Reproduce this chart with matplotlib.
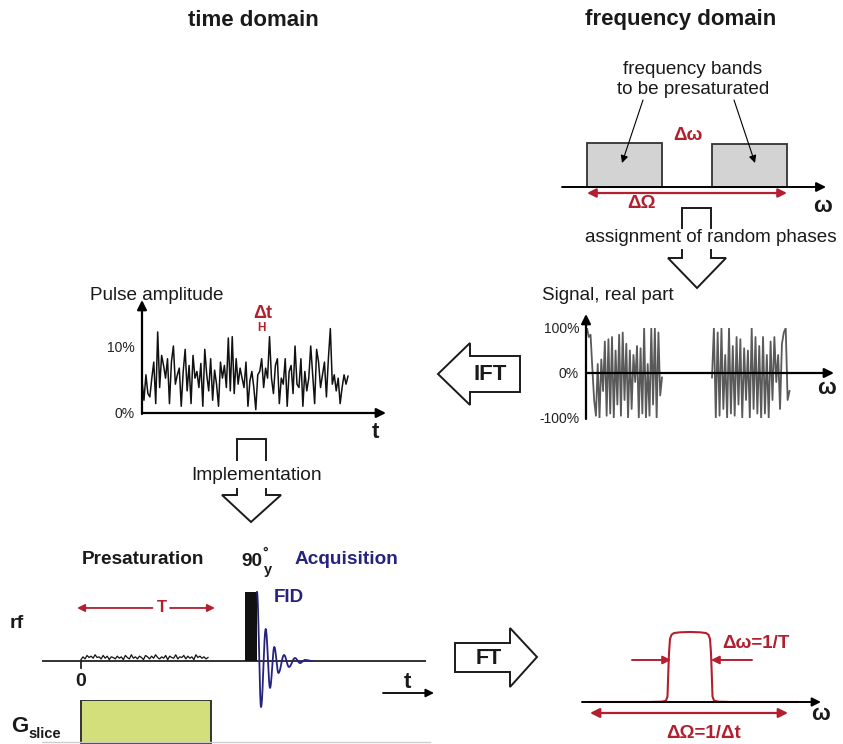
import numpy as np
import matplotlib
matplotlib.use("Agg")
import matplotlib.pyplot as plt
from matplotlib.patches import Polygon

# ---------------------------------------------------------------- data
# frequency bands to be presaturated (omega units)
band_lo = [0.0, 50.0]
band_hi = [30.0, 80.0]
band_amp = [1.0, 0.98]

# real part of the band signal after random phase assignment (%)
sig_left = [100, 80, 85, 10, -60, -95, 20, -100, 30, -40, 70, -95, 75, -90, 80,
            -100, 50, -70, 85, -95, 90, -60, 65, -100, 50, -80, 40, -20, 60, -100,
            55, -90, 100, -100, 20, -95, 100, -70, 100, -100, 90, -50, -10]
sig_right = [-10, 100, -100, 90, -95, 100, -80, 40, -100, 100, -90, 60, -95, 80,
             -70, 75, -100, 55, -60, 50, -100, 100, -80, 80, -90, 60, -100, 80,
             -90, 40, -100, 70, -60, 80, -20, 40, -80, 65, 90, 100, -60, -40]

# pulse amplitude of the presaturation train (%)
pulse_pct = [4.8, 1.9, 5.7, 2.9, 2.4, 5.2, 7.6, 1.4, 12.1, 3.8, 8.6, 7.1, 5.2, 8.1,
             1.4, 7.6, 10.0, 4.3, 5.7, 6.7, 1.0, 6.2, 9.5, 3.3, 7.1, 1.4, 8.6, 5.2,
             6.2, 3.8, 7.4, 1.0, 9.5, 5.7, 3.3, 8.1, 1.9, 6.4, 4.3, 1.0, 7.6, 5.2,
             7.1, 3.8, 11.2, 3.3, 11.4, 2.9, 8.1, 4.3, 6.7, 5.2, 3.8, 7.6, 1.0, 4.8,
             6.2, 3.8, 0.5, 5.7, 6.2, 8.1, 3.8, 6.7, 5.2, 11.4, 5.2, 2.9, 7.1, 8.1,
             1.4, 5.2, 4.3, 8.1, 1.0, 6.2, 7.1, 2.9, 10.0, 4.3, 3.8, 8.1, 1.0, 6.2,
             3.3, 5.2, 10.0, 5.7, 1.4, 9.5, 7.6, 3.8, 5.7, 7.6, 2.4, 8.1, 12.6, 4.3,
             5.7, 3.3, 5.2, 1.4, 3.8, 5.7, 4.3, 5.5]

# rf sequence (time in units of T, amplitude relative to the 90° pulse)
presat_T = 1.0
presat_noise = [0.02, 0.06, 0.03, 0.08, 0.05, 0.07, 0.04, 0.09, 0.05, 0.06, 0.03,
                0.08, 0.04, 0.07, 0.02, 0.06, 0.05, 0.03, 0.07, 0.04, 0.06, 0.02,
                0.08, 0.05, 0.03, 0.09, 0.04, 0.06, 0.03, 0.07, 0.05, 0.02, 0.08,
                0.06, 0.03, 0.07, 0.04, 0.09, 0.05, 0.03, 0.06, 0.04, 0.08, 0.02,
                0.07, 0.05, 0.04, 0.09, 0.03, 0.06, 0.05, 0.08, 0.03, 0.07, 0.04,
                0.06, 0.02, 0.09, 0.05, 0.07, 0.04, 0.06, 0.03, 0.05]
pulse90_start, pulse90_end, pulse90_amp = 1.262, 1.354, 1.0
# FID turning points (time, amplitude)
fid_t = [1.354, 1.385, 1.421, 1.454, 1.487, 1.519, 1.562, 1.600, 1.646, 1.685, 1.723, 1.777]
fid_a = [1.0, -0.667, 0.464, -0.391, 0.203, -0.174, 0.087, -0.087, 0.043, -0.03, 0.015, 0.0]

# resulting excitation profile
spec_w = [-100, -40, -28, -24, -22.5, -22, -21, -20, -18.5, -16, -10, 0,
          10, 16, 18.5, 20, 21, 22, 22.5, 24, 28, 40, 108]
spec_a = [0, 0, 0.005, 0.02, 0.08, 0.3, 0.7, 0.9, 0.96, 0.985, 0.995, 1.0,
          0.995, 0.985, 0.96, 0.9, 0.7, 0.3, 0.08, 0.02, 0.005, 0, 0]

# ---------------------------------------------------------------- style
W, H = 843, 744
plt.rcParams['font.family'] = ['Liberation Sans', 'DejaVu Sans']
RED = '#b31f2e'
NAVY = '#26237f'
GREY_FILL = '#d3d3d3'
GREEN = '#d3df7a'
TXT = 13.6

fig = plt.figure(figsize=(W / 100, H / 100), dpi=100)


def px_axes(x0, y0, x1, y1):
    ax = fig.add_axes([x0 / W, 1 - y1 / H, (x1 - x0) / W, (y1 - y0) / H])
    ax.patch.set_alpha(0)
    for s in ax.spines.values():
        s.set_visible(False)
    ax.set_xticks([])
    ax.set_yticks([])
    return ax


def arrow(ax, x0, y0, x1, y1, color='black', lw=1.5, style='-|>', ms=14):
    ax.annotate('', xy=(x1, y1), xytext=(x0, y0),
                arrowprops=dict(arrowstyle=style, color=color, lw=lw,
                                mutation_scale=ms, shrinkA=0, shrinkB=0))


# transparent overlay in pixel units, drawn above the plot panels
ov = px_axes(0, 0, W, H)
ov.set_xlim(0, W)
ov.set_ylim(H, 0)
ov.set_zorder(10)


def txt(x, y, s, size=TXT, weight='normal', color='#1a1a1a', ha='center', va='center'):
    ov.text(x, y, s, fontsize=size, fontweight=weight, color=color, ha=ha, va=va)


# ---------------------------------------------------------------- headings
txt(253, 20, 'time domain', size=16, weight='bold')
txt(681, 20, 'frequency domain', size=16, weight='bold')

# ---------------------------------------------------------------- frequency bands
fq = px_axes(562, 130, 830, 200)
fq.set_xlim(-10, 97.2)
fq.set_ylim(-0.295, 1.295)
fq.bar(band_lo, band_amp, width=np.subtract(band_hi, band_lo), align='edge',
       color=GREY_FILL, edgecolor='#333333', linewidth=1.3, zorder=2)
arrow(ov, 562, 187, 826, 187, lw=1.4, ms=14)
arrow(fq, band_lo[0], -0.136, band_hi[1], -0.136, color=RED, lw=1.6, style='<|-|>', ms=13)
txt(693, 69, 'frequency bands')
txt(693, 89, 'to be presaturated')
arrow(ov, 643, 100, 622, 163, lw=0.8, ms=11)
arrow(ov, 734, 100, 755, 163, lw=0.8, ms=11)
txt(688, 135, 'Δω', size=13.5, weight='bold', color=RED)
txt(641, 204, 'ΔΩ', size=13.5, weight='bold', color=RED)
txt(823, 206, 'ω', size=16, weight='bold')
txt(711, 238, 'assignment of random phases')

# hollow down arrow around the text
kw = dict(color='#1a1a1a', lw=1.4, solid_joinstyle='miter')
ov.plot([682, 682, 711, 711], [228, 208, 208, 228], **kw)
ov.plot([682, 682, 668, 697, 726, 711, 711], [250, 258, 258, 288, 258, 258, 250], **kw)

# ---------------------------------------------------------------- signal, real part
txt(542, 295, 'Signal, real part', ha='left')
sg = px_axes(586, 328, 833, 418)
sg.set_xlim(-0.4, 98.4)
sg.set_ylim(-100, 100)
sg.plot(np.linspace(band_lo[0], band_hi[0], len(sig_left)), sig_left, color='#5a5a5a', lw=1.3)
sg.plot(np.linspace(band_lo[1], band_hi[1] + 1, len(sig_right)), sig_right, color='#5a5a5a', lw=1.3)
sg.set_yticks([-100, 0, 100])
sg.set_yticklabels(['-100%', '0%', '100%'])
sg.tick_params(axis='y', length=0, pad=5, labelsize=10, labelcolor='#222222')
arrow(ov, 586, 419, 586, 314, lw=1.6, ms=14)
arrow(ov, 586, 373, 834, 373, lw=1.6, ms=14)
txt(827, 388, 'ω', size=16, weight='bold')

# ---------------------------------------------------------------- IFT arrow
ov.add_patch(Polygon([(438, 374), (470, 343), (470, 356), (520, 356), (520, 392),
                      (470, 392), (470, 405)], closed=True, facecolor='white',
                     edgecolor='#1a1a1a', lw=1.4, joinstyle='miter'))
txt(490, 374, 'IFT', size=16, weight='bold')

# ---------------------------------------------------------------- pulse amplitude
txt(90, 295, 'Pulse amplitude', ha='left')
pa = px_axes(142, 303, 385, 413)
n = len(pulse_pct)
pa.set_xlim(0, (n - 1) * 243 / 206)
pa.set_ylim(0, 110 / 6.7)
pa.plot(np.arange(n), pulse_pct, color='#111111', lw=1.1)
pa.set_yticks([0, 10])
pa.set_yticklabels(['0%', '10%'])
pa.tick_params(axis='y', length=0, pad=5, labelsize=10, labelcolor='#222222')
arrow(ov, 142, 414, 142, 300, lw=1.6, ms=14)
arrow(ov, 142, 413, 386, 413, lw=1.6, ms=14)
txt(375, 433, 't', size=16, weight='bold')
txt(263, 313, 'Δt', size=13, weight='bold', color=RED)
txt(261, 328, 'H', size=8.5, weight='bold', color=RED)

# implementation arrow
ov.plot([237, 237, 266, 266], [460, 439, 439, 460], **kw)
ov.plot([237, 237, 222, 251, 281, 266, 266], [489, 495, 495, 522, 495, 495, 489], **kw)
txt(257, 475, 'Implementation', size=13.8)

# ---------------------------------------------------------------- rf sequence
txt(143, 560, 'Presaturation', size=13.7, weight='bold')
txt(252, 561, '90', size=13.7, weight='bold')
txt(265, 553, '°', size=10, weight='bold')
txt(268, 570, 'y', size=10.5, weight='bold')
txt(346, 560, 'Acquisition', size=13.7, weight='bold', color=NAVY)
txt(289, 597, 'FID', size=13.5, weight='bold', color=NAVY)
txt(17, 623, 'rf', size=14, weight='bold')

rf = px_axes(42, 585, 426, 744)
rf.set_xlim(-0.3, 2.654)
rf.set_ylim(-1.203, 1.101)
rf.axhline(0, color='#222222', lw=1.3, zorder=1)
rf.plot(np.linspace(0, presat_T * 0.977, len(presat_noise)), presat_noise,
        color='#111111', lw=0.9, zorder=2)
rf.bar([pulse90_start], [pulse90_amp], width=pulse90_end - pulse90_start,
       align='edge', color='#111111', zorder=3)
# FID drawn as half-cosine segments between turning points
seg_t, seg_a = [], []
for i in range(len(fid_t) - 1):
    s = np.linspace(0, 1, 20)
    seg_t.extend(fid_t[i] + (fid_t[i + 1] - fid_t[i]) * s)
    seg_a.extend(fid_a[i] + (fid_a[i + 1] - fid_a[i]) * (1 - np.cos(np.pi * s)) / 2)
rf.plot(seg_t, seg_a, color=NAVY, lw=1.3, zorder=4)
rf.plot([0, 0], [0, -0.1], color='#222222', lw=1.3)
# presaturation duration T
rf.annotate('', xy=(-0.03, 0.768), xytext=(0.55, 0.768),
            arrowprops=dict(arrowstyle='-|>', color=RED, lw=1.3, mutation_scale=11,
                            shrinkA=0, shrinkB=0))
rf.annotate('', xy=(presat_T + 0.03, 0.768), xytext=(0.685, 0.768),
            arrowprops=dict(arrowstyle='-|>', color=RED, lw=1.3, mutation_scale=11,
                            shrinkA=0, shrinkB=0))
rf.text(0.62, 0.768, 'T', fontsize=12, fontweight='bold', color=RED, ha='center', va='center')
txt(81, 682, '0', size=14, weight='bold')
txt(407, 683, 't', size=16, weight='bold')
arrow(ov, 383, 693, 434, 693, lw=1.3, ms=12)

# slice gradient
gs = px_axes(42, 700, 426, 744)
gs.set_xlim(-0.3, 2.654)
gs.set_ylim(0, 1.19)
gs.bar([0], [1.2], width=presat_T * 1.0, align='edge', color=GREEN,
       edgecolor='#333333', linewidth=1.4)
ov.plot([42, 430], [742, 742], color='#cccccc', lw=1.0)
txt(20, 726, 'G', size=16, weight='bold')
txt(28, 734, 'slice', size=10.5, weight='bold', ha='left')

# ---------------------------------------------------------------- FT arrow
ov.add_patch(Polygon([(455, 643), (510, 643), (510, 628), (537, 657), (510, 687),
                      (510, 672), (455, 672)], closed=True, facecolor='white',
                     edgecolor='#1a1a1a', lw=1.4, joinstyle='miter'))
txt(489, 658, 'FT', size=15.5, weight='bold')

# ---------------------------------------------------------------- excitation profile
sp = px_axes(582, 620, 830, 744)
sp.set_xlim(-108, 140)
sp.set_ylim(-0.6, 1.171)
arrow(ov, 582, 702, 821, 702, lw=1.4, ms=13)
sp.plot(spec_w, spec_a, color=RED, lw=1.5, zorder=3)
sp.annotate('', xy=(-19, 0.6), xytext=(-58, 0.6),
            arrowprops=dict(arrowstyle='-|>', color=RED, lw=1.4, mutation_scale=12,
                            shrinkA=0, shrinkB=0))
sp.annotate('', xy=(21, 0.6), xytext=(62, 0.6),
            arrowprops=dict(arrowstyle='-|>', color=RED, lw=1.4, mutation_scale=12,
                            shrinkA=0, shrinkB=0))
sp.annotate('', xy=(98, -0.157), xytext=(-100, -0.157),
            arrowprops=dict(arrowstyle='<|-|>', color=RED, lw=1.6, mutation_scale=14,
                            shrinkA=0, shrinkB=0))
txt(722, 643, 'Δω=1/T', size=13.5, weight='bold', color=RED, ha='left')
txt(704, 734, 'ΔΩ=1/Δt', size=13.5, weight='bold', color=RED)
txt(821, 715, 'ω', size=16, weight='bold')

fig.savefig('out.png', dpi=100)
